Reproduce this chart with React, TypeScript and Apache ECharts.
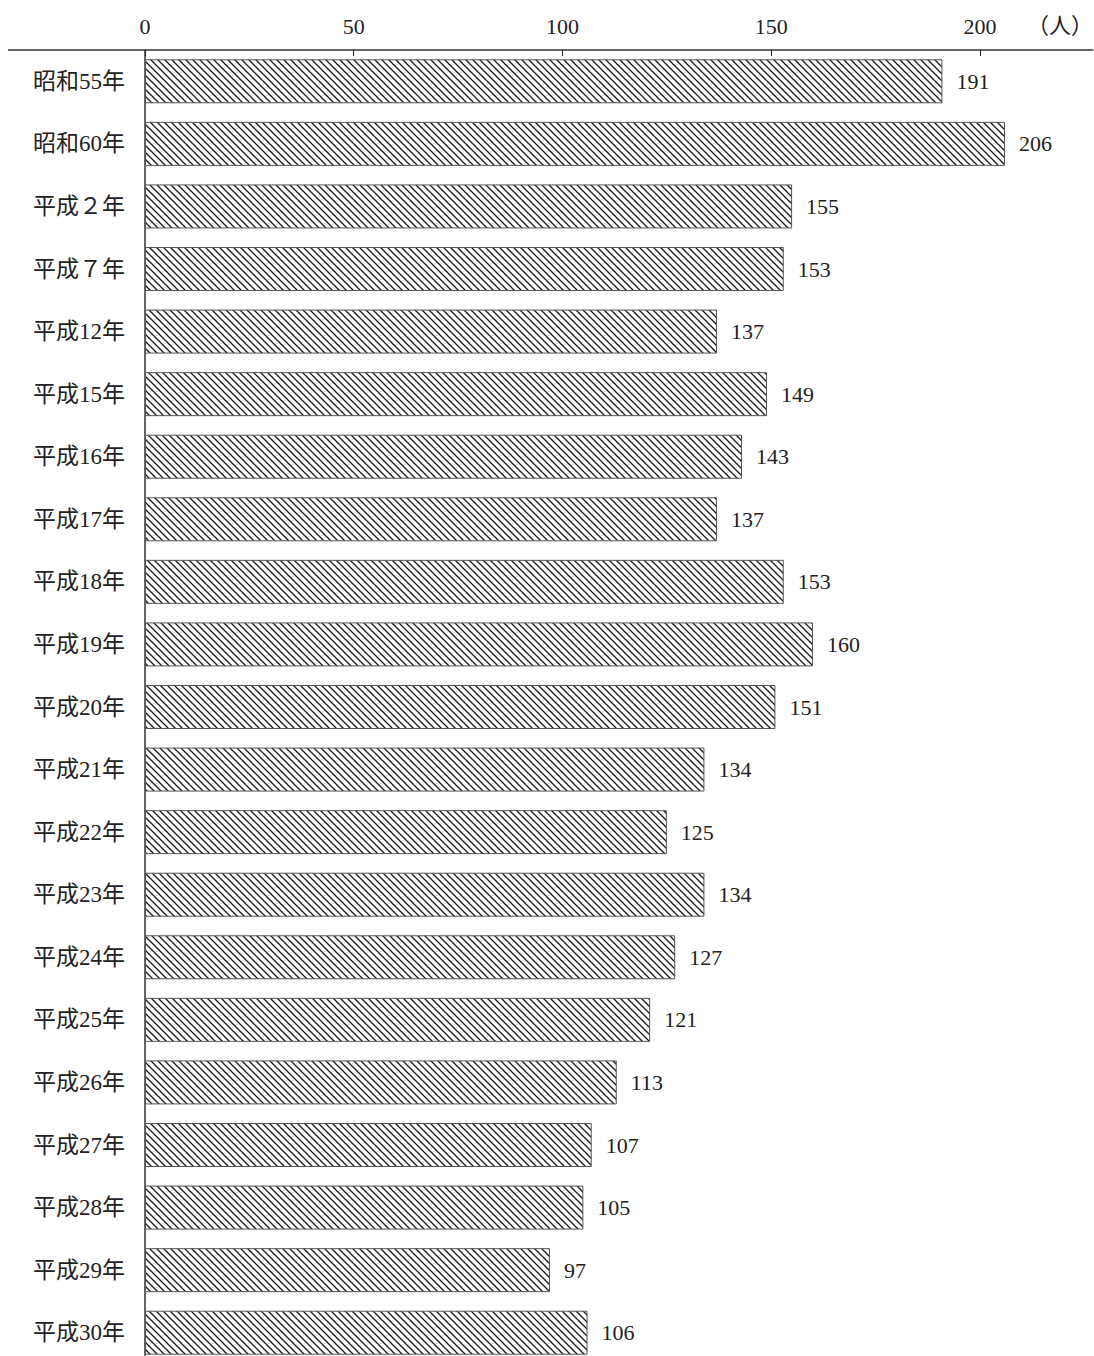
import React, { useEffect, useRef } from "react";
import * as echarts from "echarts";

const categories = [
  "昭和55年", "昭和60年", "平成２年", "平成７年", "平成12年", "平成15年", "平成16年",
  "平成17年", "平成18年", "平成19年", "平成20年", "平成21年", "平成22年", "平成23年",
  "平成24年", "平成25年", "平成26年", "平成27年", "平成28年", "平成29年", "平成30年",
];
const values = [191, 206, 155, 153, 137, 149, 143, 137, 153, 160, 151, 134, 125, 134, 127, 121, 113, 107, 105, 97, 106];
const unitLabel = "（人）";

const FONT = "'Liberation Serif', 'DejaVu Serif', 'Noto Sans CJK JP', serif";

function makePattern(): string {
  const s = 7;
  const c = document.createElement("canvas");
  c.width = s;
  c.height = s;
  const ctx = c.getContext("2d")!;
  ctx.fillStyle = "#ffffff";
  ctx.fillRect(0, 0, s, s);
  ctx.strokeStyle = "#1a1a1a";
  ctx.lineWidth = 1.25;
  for (const x0 of [-s, 0, s]) {
    ctx.beginPath();
    ctx.moveTo(x0 - 1, -1);
    ctx.lineTo(x0 + s + 1, s + 1);
    ctx.stroke();
  }
  return c.toDataURL();
}

export default function App() {
  const ref = useRef<HTMLDivElement>(null);
  useEffect(() => {
    if (!ref.current) return;
    const chart = echarts.init(ref.current, undefined, { renderer: "svg" });
    const pattern = makePattern();
    chart.setOption({
      animation: false,
      backgroundColor: "#ffffff",
      grid: { left: 145, top: 50, width: 947.7, height: 1314, containLabel: false },
      xAxis: {
        type: "value",
        position: "top",
        min: 0,
        max: 227,
        interval: 50,
        splitLine: { show: false },
        axisLine: { show: true, lineStyle: { color: "#333", width: 1.5 } },
        axisTick: { show: true, inside: true, length: 6, lineStyle: { color: "#333", width: 1.2 } },
        axisLabel: {
          show: true,
          margin: 13,
          fontSize: 22,
          fontFamily: FONT,
          color: "#222",
          showMaxLabel: false,
          formatter: (v: number) => (v % 50 === 0 ? String(v) : ""),
        },
      },
      yAxis: {
        type: "category",
        inverse: true,
        data: categories,
        axisLine: { show: true, lineStyle: { color: "#333", width: 1.5 } },
        axisTick: { show: false },
        axisLabel: { margin: 20, fontSize: 23, fontFamily: FONT, color: "#222" },
      },
      series: [
        {
          type: "bar",
          data: values,
          barWidth: 44,
          itemStyle: {
            color: { image: pattern, repeat: "repeat" },
            borderColor: "#555",
            borderWidth: 1,
          },
          label: {
            show: true,
            position: "right",
            distance: 14,
            fontSize: 22,
            fontFamily: FONT,
            color: "#222",
          },
        },
      ],
      graphic: [
        {
          type: "line",
          shape: { x1: 8, y1: 50, x2: 145, y2: 50 },
          style: { stroke: "#333", lineWidth: 1.5 },
        },
        {
          type: "text",
          x: 1093,
          y: 14,
          style: { text: unitLabel, fontSize: 22, fontFamily: FONT, fill: "#222", align: "right" },
        },
      ],
    });
    return () => chart.dispose();
  }, []);
  return (
    <div style={{ position: "absolute", left: 0, top: 0, width: 1094, height: 1356, overflow: "hidden" }}>
      <div ref={ref} style={{ width: 1094, height: 1372 }} />
    </div>
  );
}
